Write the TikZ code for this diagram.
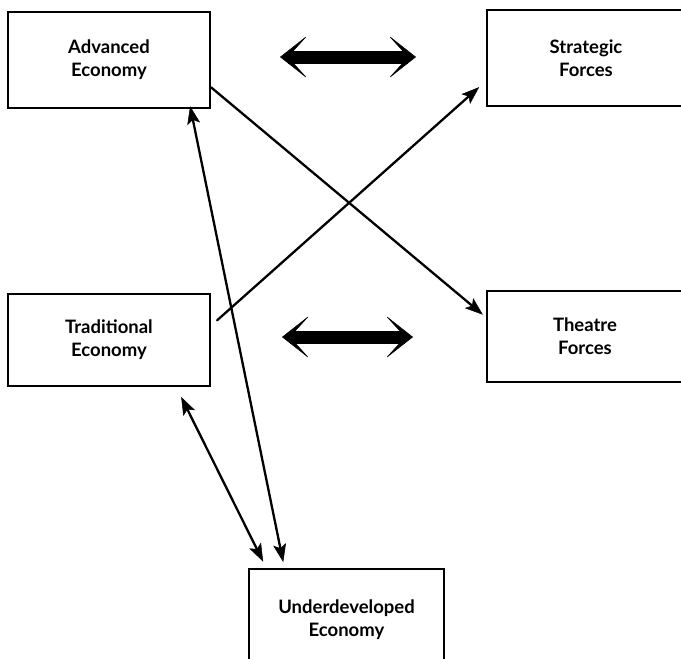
\documentclass[tikz,border=0pt]{standalone}
\usepackage{fontspec}
\setmainfont{Lato}
\usetikzlibrary{arrows.meta,calc}
\begin{document}
\begin{tikzpicture}[x=1pt,y=-1pt,
  box/.style={draw,line width=2.2pt,align=center,inner sep=0pt,
    font=\fontsize{18.5}{23}\selectfont\bfseries},
  conn/.style={line width=2.3pt,line cap=round},
  tipa/.style={-{Stealth[length=18pt,width=13pt,inset=4pt,line width=0.5pt]}},
  tipb/.style={{Stealth[length=18pt,width=13pt,inset=4pt,line width=0.5pt]}-{Stealth[length=18pt,width=13pt,inset=4pt,line width=0.5pt]}},
  bigarrow/.style={line width=13pt,
    {Stealth[length=28pt,width=44pt,inset=20pt,line width=0.5pt]}-{Stealth[length=28pt,width=44pt,inset=20pt,line width=0.5pt]}}]
\useasboundingbox (0,0) rectangle (681,659);
\clip (0,0) rectangle (681,659);
\node[box,minimum width=202pt,minimum height=96pt] (adv) at (109,60) {Advanced\\Economy};
\node[box,minimum width=198pt,minimum height=96pt] (strat) at (586,58) {Strategic\\Forces};
\node[box,minimum width=196pt,minimum height=91pt] (theat) at (585,336.5) {Theatre\\Forces};
\node[box,minimum width=202pt,minimum height=92pt] (trad) at (109,340) {Traditional\\Economy};
\node[box,minimum width=195pt,minimum height=102pt] (under) at (346.5,620) {Underdeveloped\\Economy};
\coordinate (b1l) at (280,57);
\coordinate (b1r) at (416,57);
\coordinate (b2l) at (282,337);
\coordinate (b2r) at (413,337);
\draw[bigarrow] (b1l) -- (b1r);
\draw[bigarrow] (b2l) -- (b2r);
\draw[conn,tipa,shorten >=4pt] (adv.-15.5) -- (theat.169.5);
\draw[conn,tipa,shorten <=8pt,shorten >=9pt] (trad.8.4) -- (strat.-167.2);
\draw[conn,tipb,shorten <=-3pt,shorten >=6pt] (adv.-31.3) -- (under.140.3);
\draw[conn,tipb,shorten <=11pt,shorten >=7pt] (trad.-35.7) -- (under.147.6);
\end{tikzpicture}
\end{document}
